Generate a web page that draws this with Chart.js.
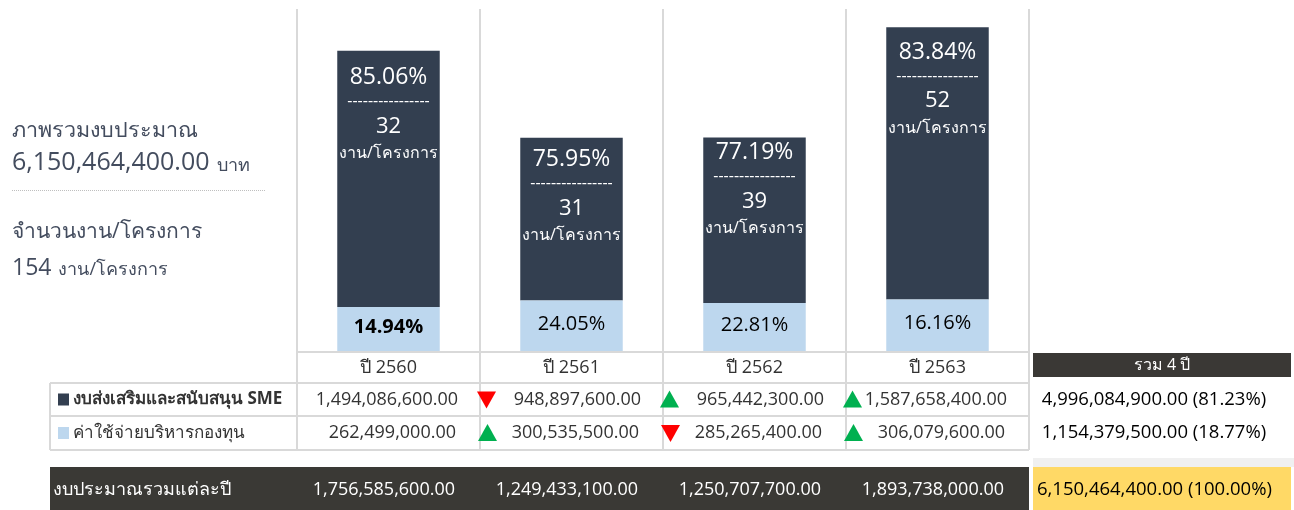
<!DOCTYPE html>
<html>
<head>
<meta charset="utf-8">
<script src="https://cdn.jsdelivr.net/npm/chart.js@4"></script>
<style>
    body { margin: 0; background: #fff; }
    canvas { display: block; }
</style>
</head>
<body>
<canvas id="budgetChart" width="1294" height="510"></canvas>
<script>
const years = ['ปี 2560', 'ปี 2561', 'ปี 2562', 'ปี 2563'];
const smeBudget = [1494086600, 948897600, 965442300, 1587658400];
const adminCost = [262499000, 300535500, 285265400, 306079600];
const yearTotals = [1756585600, 1249433100, 1250707700, 1893738000];
const smePercent = ['85.06%', '75.95%', '77.19%', '83.84%'];
const adminPercent = ['14.94%', '24.05%', '22.81%', '16.16%'];
const projectCount = [32, 31, 39, 52];
const smeTrend = [null, 'down', 'up', 'up'];
const adminTrend = [null, 'up', 'down', 'up'];
const smeTotalLabel = '4,996,084,900.00 (81.23%)';
const adminTotalLabel = '1,154,379,500.00 (18.77%)';
const grandTotalLabel = '6,150,464,400.00 (100.00%)';
const totalProjects = 154;

const FONT = "'Open Sans', 'Noto Sans', sans-serif";
const DARK = '#333f50';
const LIGHT = '#bdd7ee';
const GRID = '#d9d9d9';

// label start offset from the top of each dark bar
const labelOffsets = [27, 22, 15, 25];

function fmt(n) {
    return n.toLocaleString('en-US', { minimumFractionDigits: 2, maximumFractionDigits: 2 });
}

function triangle(ctx, x, y, dir) {
    ctx.beginPath();
    if (dir === 'up') {
        ctx.fillStyle = '#00b050';
        ctx.moveTo(x, y + 8);
        ctx.lineTo(x + 19, y + 8);
        ctx.lineTo(x + 9.5, y - 9);
    } else {
        ctx.fillStyle = '#ff0000';
        ctx.moveTo(x, y - 8);
        ctx.lineTo(x + 19, y - 8);
        ctx.lineTo(x + 9.5, y + 9);
    }
    ctx.closePath();
    ctx.fill();
}

const tablePlugin = {
    id: 'tablePlugin',
    afterDraw(chart) {
        const ctx = chart.ctx;
        const xs = chart.scales.x;
        const area = chart.chartArea;
        const colW = xs.getPixelForValue(1) - xs.getPixelForValue(0);
        const left = area.left, right = area.right, base = area.bottom;
        const row1 = base + 31, row2 = row1 + 33, row3 = row2 + 34;
        ctx.save();

        // labels inside bars
        const smeMeta = chart.getDatasetMeta(1);
        const adminMeta = chart.getDatasetMeta(0);
        ctx.textAlign = 'center';
        ctx.textBaseline = 'middle';
        years.forEach((y, i) => {
            const cx = xs.getPixelForValue(i);
            const top = smeMeta.data[i].y + labelOffsets[i];
            ctx.fillStyle = '#ffffff';
            ctx.font = '23px ' + FONT;
            ctx.fillText(smePercent[i], cx, top);
            ctx.font = '16px ' + FONT;
            ctx.fillText('----------------', cx, top + 24);
            ctx.font = '22px ' + FONT;
            ctx.fillText(String(projectCount[i]), cx, top + 49);
            ctx.font = '16px ' + FONT;
            ctx.fillText('งาน/โครงการ', cx, top + 76);

            const seg = adminMeta.data[i];
            ctx.fillStyle = '#000000';
            ctx.font = (i === 0 ? 'bold ' : '') + '20px ' + FONT;
            ctx.fillText(adminPercent[i], cx, (seg.y + base) / 2 - 2);
        });

        // table lines
        ctx.strokeStyle = GRID;
        ctx.lineWidth = 2;
        ctx.beginPath();
        ctx.moveTo(left, base); ctx.lineTo(right, base);
        [row1, row2, row3].forEach(yy => { ctx.moveTo(50, yy); ctx.lineTo(right, yy); });
        for (let i = 0; i <= years.length; i++) {
            const gx = left + i * colW;
            ctx.moveTo(gx, base); ctx.lineTo(gx, row3);
        }
        ctx.moveTo(50, row1); ctx.lineTo(50, row3);
        ctx.stroke();

        // header row
        ctx.fillStyle = '#333333';
        ctx.font = '18px ' + FONT;
        years.forEach((y, i) => ctx.fillText(y, xs.getPixelForValue(i), (base + row1) / 2));

        // series rows
        const r1 = (row1 + row2) / 2, r2 = (row2 + row3) / 2;
        ctx.fillStyle = DARK;
        ctx.fillRect(58, r1 - 6, 11, 12);
        ctx.fillStyle = LIGHT;
        ctx.fillRect(58, r2 - 6, 11, 12);
        ctx.textAlign = 'left';
        ctx.fillStyle = '#333333';
        ctx.font = 'bold 17px ' + FONT;
        ctx.fillText('งบส่งเสริมและสนับสนุน SME', 73, r1);
        ctx.font = '17px ' + FONT;
        ctx.fillText('ค่าใช้จ่ายบริหารกองทุน', 73, r2);

        ctx.font = '18px ' + FONT;
        ctx.textAlign = 'right';
        years.forEach((y, i) => {
            const cl = left + i * colW;
            ctx.fillStyle = '#333333';
            ctx.fillText(fmt(smeBudget[i]), cl + colW - 22, r1);
            ctx.fillText(fmt(adminCost[i]), cl + colW - 24, r2);
            if (smeTrend[i]) triangle(ctx, cl - 3, r1, smeTrend[i]);
            if (adminTrend[i]) triangle(ctx, cl - 2, r2, adminTrend[i]);
        });

        // summary column
        const sx = right + 4, sw = 258, scx = sx + sw / 2;
        ctx.fillStyle = '#3a3835';
        ctx.fillRect(sx, base + 1, sw, 24);
        ctx.textAlign = 'center';
        ctx.fillStyle = '#ffffff';
        ctx.font = '16px ' + FONT;
        ctx.fillText('รวม 4 ปี', scx, base + 13);
        ctx.fillStyle = '#000000';
        ctx.font = '18.5px ' + FONT;
        ctx.fillText(smeTotalLabel, scx - 8, r1);
        ctx.fillText(adminTotalLabel, scx - 8, r2);

        // total row
        const ty = row3 + 17;
        ctx.fillStyle = '#3a3935';
        ctx.fillRect(50, ty, right - 50, chart.height - ty);
        ctx.fillStyle = '#f0f0f0';
        ctx.fillRect(sx, ty - 9, chart.width - sx, 9);
        ctx.fillStyle = '#ffd966';
        ctx.fillRect(sx, ty, sw, chart.height - ty);
        const tm = (ty + chart.height) / 2 + 1;
        ctx.fillStyle = '#ffffff';
        ctx.textAlign = 'left';
        ctx.font = '18px ' + FONT;
        ctx.fillText('งบประมาณรวมแต่ละปี', 53, tm);
        ctx.textAlign = 'right';
        years.forEach((y, i) => ctx.fillText(fmt(yearTotals[i]), left + (i + 1) * colW - 25, tm));
        ctx.fillStyle = '#000000';
        ctx.textAlign = 'left';
        ctx.font = '18.5px ' + FONT;
        ctx.fillText(grandTotalLabel, sx + 4, tm);

        // overview text on the left
        ctx.fillStyle = '#434c5e';
        ctx.font = '21.5px ' + FONT;
        ctx.fillText('ภาพรวมงบประมาณ', 12, 131);
        ctx.font = '25px ' + FONT;
        const totalStr = fmt(smeBudget.concat(adminCost).reduce((a, b) => a + b, 0));
        ctx.fillText(totalStr, 12, 163);
        const tw = ctx.measureText(totalStr).width;
        ctx.font = '18px ' + FONT;
        ctx.fillText('บาท', 12 + tw + 7, 166);
        ctx.strokeStyle = '#bfbfbf';
        ctx.lineWidth = 1;
        ctx.setLineDash([1, 1]);
        ctx.beginPath();
        ctx.moveTo(12, 190.5); ctx.lineTo(265, 190.5);
        ctx.stroke();
        ctx.setLineDash([]);
        ctx.font = '21px ' + FONT;
        ctx.fillText('จำนวนงาน/โครงการ', 12, 232);
        ctx.font = '23px ' + FONT;
        ctx.fillText(String(totalProjects), 12, 268);
        const nw = ctx.measureText(String(totalProjects)).width;
        ctx.font = '18px ' + FONT;
        ctx.fillText('งาน/โครงการ', 12 + nw + 7, 270);

        ctx.restore();
    }
};

new Chart(document.getElementById('budgetChart'), {
    type: 'bar',
    data: {
        labels: years,
        datasets: [
            {
                label: 'ค่าใช้จ่ายบริหารกองทุน',
                data: adminCost,
                backgroundColor: LIGHT,
                borderWidth: 0,
            },
            {
                label: 'งบส่งเสริมและสนับสนุน SME',
                data: smeBudget,
                backgroundColor: DARK,
                borderWidth: 0,
            },
        ],
    },
    options: {
        responsive: false,
        animation: false,
        layout: {
            padding: { left: 297, right: 265, top: 9, bottom: 158 },
        },
        plugins: {
            legend: { display: false },
            tooltip: { enabled: false },
        },
        datasets: {
            bar: { categoryPercentage: 1, barPercentage: 0.56 },
        },
        scales: {
            x: {
                stacked: true,
                grid: {
                    offset: true,
                    color: GRID,
                    lineWidth: 2,
                    drawTicks: false,
                },
                border: { display: false },
                ticks: { display: false },
            },
            y: {
                stacked: true,
                display: false,
                min: 0,
                max: 2000000000,
            },
        },
    },
    plugins: [tablePlugin],
});
</script>
</body>
</html>
